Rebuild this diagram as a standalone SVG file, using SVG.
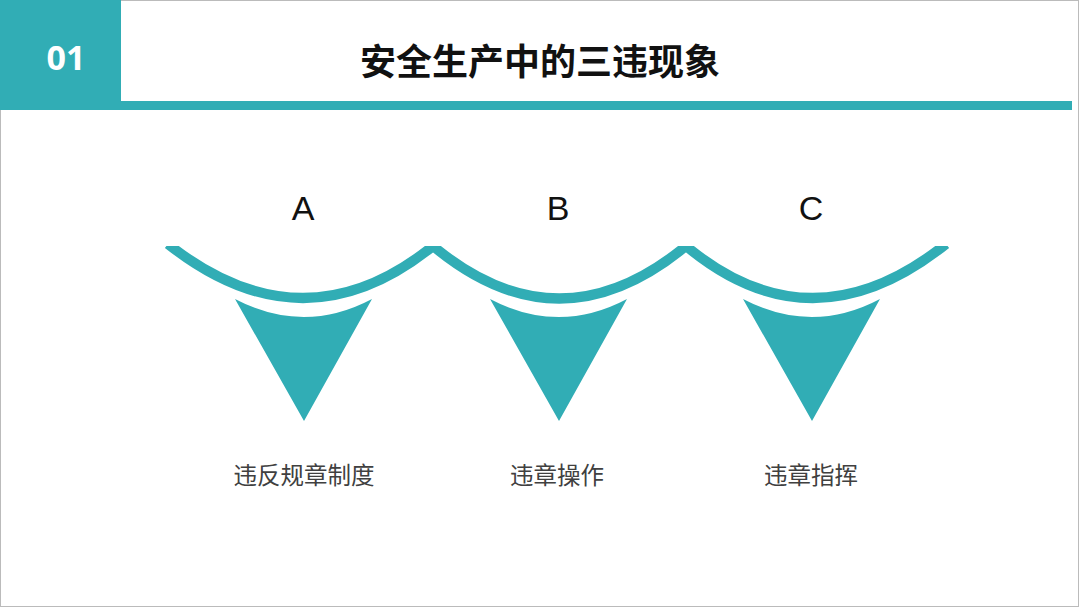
<svg xmlns="http://www.w3.org/2000/svg" width="1080" height="608" viewBox="0 0 1080 608">
<style>
.t{fill:#31adb5}
.arc{fill:none;stroke:#31adb5;stroke-width:10}
.let{font-family:"Liberation Sans",sans-serif;font-size:34px;fill:#111;text-anchor:middle}
.lab{font-family:"Noto Sans CJK SC",sans-serif;font-size:23.5px;fill:#404040;text-anchor:middle}
</style>
<defs><clipPath id="cp"><rect x="0" y="246" width="1080" height="200"/></clipPath></defs>
<rect x="0.5" y="0.5" width="1078" height="606" fill="#fff" stroke="#bbb"/>
<g id="header">
<rect class="t" x="0" y="0" width="121" height="110"/>
<rect class="t" x="0" y="101" width="1072" height="9"/>
<text x="66" y="70" font-family="Open Sans,sans-serif" font-weight="bold" font-size="34" fill="#fff" text-anchor="middle">01</text>
<text x="540" y="75" font-family="Noto Sans CJK SC,sans-serif" font-weight="bold" font-size="36" fill="#111" text-anchor="middle">安全生产中的三违现象</text>
</g>
<g id="connectors" clip-path="url(#cp)">
<path class="arc" d="M168,244 Q303,351 433,246"/>
<path class="arc" d="M433,246 Q559,351 686,246"/>
<path class="arc" d="M686,246 Q812,351 946,244"/>
</g>
<g id="nodeA">
<text class="let" x="303" y="220">A</text>
<path class="t" d="M235,299 Q304,335 372,299 L304,421 Z"/>
<text class="lab" x="304" y="484">违反规章制度</text>
</g>
<g id="nodeB">
<text class="let" x="558" y="220">B</text>
<path class="t" d="M490,299 Q559,335 627,299 L559,421 Z"/>
<text class="lab" x="557" y="484">违章操作</text>
</g>
<g id="nodeC">
<text class="let" x="811" y="220">C</text>
<path class="t" d="M743,299 Q812,335 880,299 L812,421 Z"/>
<text class="lab" x="811" y="484">违章指挥</text>
</g>
</svg>
